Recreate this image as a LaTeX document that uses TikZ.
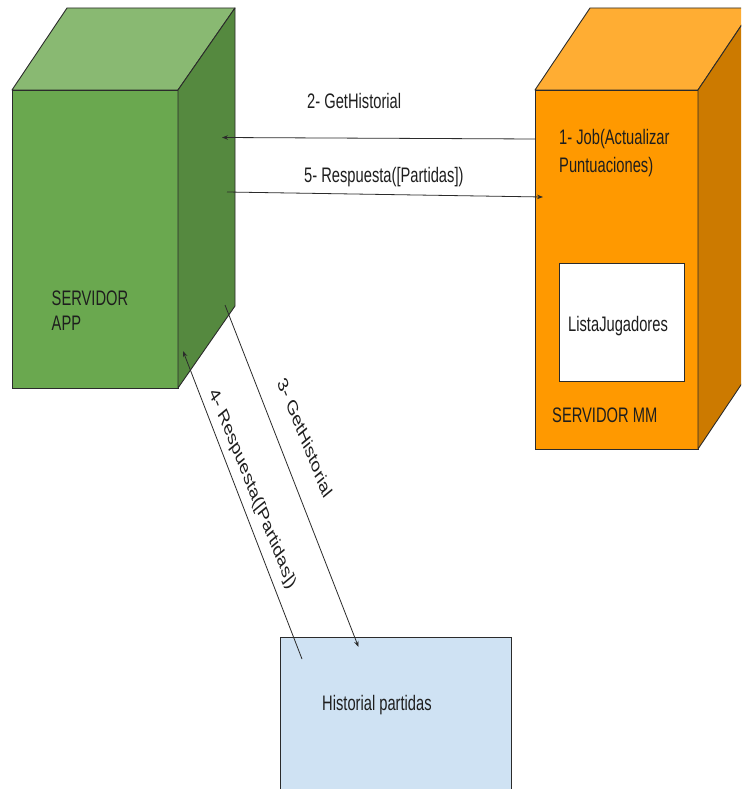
\documentclass[tikz,border=0pt]{standalone}
\usepackage{fontspec}
\setmainfont{Liberation Sans}[FakeStretch=0.70]
\newfontfamily\plainsans{Liberation Sans}
\usetikzlibrary{arrows.meta}
\definecolor{appfront}{HTML}{6AA84F}
\definecolor{apptop}{HTML}{89B972}
\definecolor{appside}{HTML}{55893F}
\definecolor{mmfront}{HTML}{FF9900}
\definecolor{mmtop}{HTML}{FFAD33}
\definecolor{mmside}{HTML}{CC7A00}
\definecolor{histfill}{HTML}{CFE2F3}
\definecolor{edgecol}{HTML}{2B2B2B}
\definecolor{inkcol}{HTML}{1E1E1E}
\begin{document}
\begin{tikzpicture}[x=1pt,y=-1pt,
  face/.style={draw=edgecol, line width=0.9pt, inner sep=0pt, outer sep=0pt},
  edge/.style={draw=edgecol, line width=0.9pt, line join=round},
  txt/.style={text=inkcol, inner sep=0pt, font=\fontsize{21}{26}\selectfont},
  slanted/.style={text=inkcol, inner sep=0pt, font=\plainsans\fontsize{14.7}{18}\selectfont,
    yscale=1.4286, rotate=-60},
  msg/.style={draw=edgecol, line width=0.8pt, -{Stealth[length=6pt,width=4.5pt]}}]
\clip (0,0) rectangle (741,789);
\useasboundingbox (0,0) rectangle (741,789);

% application server block
\node[face, fill=appfront, minimum width=166pt, minimum height=298pt] (app) at (95,239) {};
\draw[edge, fill=apptop] (app.north west) -- ++(55,-82) -- ++(168,0) -- (app.north east) -- cycle;
\draw[edge, fill=appside] (app.north east) -- ++(57,-82) -- ++(0,298) -- (app.south east) -- cycle;
\node[txt, align=left, anchor=north west, font=\fontsize{21}{24.5}\selectfont] (appname) at (51.5,291) {SERVIDOR\\APP};

% matchmaking server block
\node[face, fill=mmfront, minimum width=163pt, minimum height=359pt] (mm) at (616.5,269.5) {};
\draw[edge, fill=mmtop] (mm.north west) -- ++(55,-82) -- ++(163,0) -- (mm.north east) -- cycle;
\draw[edge, fill=mmside] (mm.north east) -- ++(55,-82) -- ++(0,359) -- (mm.south east) -- cycle;
\node[txt, align=left, anchor=north west, font=\fontsize{21}{28}\selectfont] (job) at (559,129.5) {1- Job(Actualizar\\Puntuaciones)};
\node[face, fill=white, minimum width=125pt, minimum height=118pt] (lista) at (621.5,322) {};
\node[txt, anchor=base west] (listaname) at (568,331) {ListaJugadores};
\node[txt, anchor=base west] (mmname) at (552,422.5) {SERVIDOR MM};

% match history store
\node[face, fill=histfill, minimum width=231pt, minimum height=170pt] (hist) at (395.5,722) {};
\node[txt, anchor=base west] (histname) at (322,710) {Historial partidas};

% message end points
\coordinate (m2s) at (535,139);
\coordinate (m2e) at (222,137.5);
\coordinate (m5s) at (227,192);
\coordinate (m5e) at (543,197);
\coordinate (m3s) at (225,305);
\coordinate (m3e) at (358.5,647);
\coordinate (m4s) at (302,659);
\coordinate (m4e) at (183,351);

% messages
\draw[msg] (m2s) -- (m2e);
\draw[msg] (m5s) -- (m5e);
\draw[msg] (m3s) -- (m3e);
\draw[msg] (m4s) -- (m4e);

\node[txt, anchor=base west] (l2) at (307,108.5) {2- GetHistorial};
\node[txt, anchor=base west] (l5) at (304,182) {5- Respuesta([Partidas])};
\node[slanted] (l3) at (305,437.5) {3- GetHistorial};
\node[slanted] (l4) at (252,489) {4- Respuesta([Partidas])};
\end{tikzpicture}
\end{document}
